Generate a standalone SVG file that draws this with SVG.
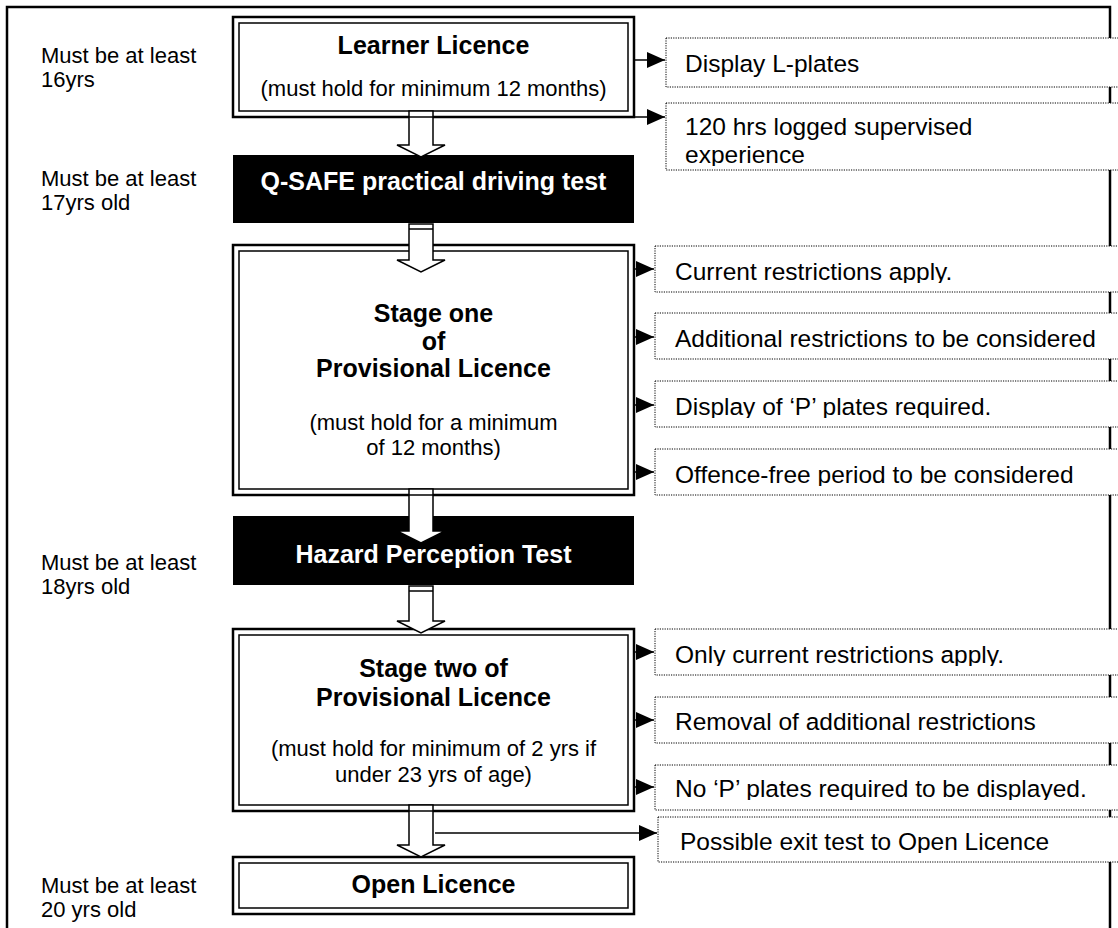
<svg xmlns="http://www.w3.org/2000/svg" width="1118" height="928" viewBox="0 0 1118 928">
<defs>
<style>
.frame{fill:none;stroke:#000;stroke-width:2.5}
.bf{fill:#fff}
.bo{fill:none;stroke:#000;stroke-width:2.5}
.bi{fill:none;stroke:#000;stroke-width:1.5}
.blk{fill:#000}
.note{fill:#fff;stroke:#000;stroke-width:1;stroke-dasharray:1.2 1.2}
.lab{font-family:"Liberation Sans",Arial,sans-serif;font-size:22px;fill:#000}
.reg{font-family:"Liberation Sans",Arial,sans-serif;font-size:22px;fill:#000;text-anchor:middle}
.bold{font-family:"Liberation Sans",Arial,sans-serif;font-size:25px;font-weight:bold;fill:#000;text-anchor:middle}
.wb{font-family:"Liberation Sans",Arial,sans-serif;font-size:25px;font-weight:bold;fill:#fff;text-anchor:middle}
.nt{font-family:"Liberation Sans",Arial,sans-serif;font-size:24.5px;fill:#000}
.hol{fill:#fff;stroke:#000;stroke-width:1.5;stroke-linejoin:miter}
.cap{stroke:#000;stroke-width:1.5}
.thin{stroke:#000;stroke-width:1.5;fill:none}
</style>
<marker id="ah" markerUnits="userSpaceOnUse" markerWidth="18" markerHeight="16" refX="18" refY="8" orient="auto">
<path d="M0,0 L18,8 L0,16 Z" fill="#000"/>
</marker>
<clipPath id="c120" clipPathUnits="userSpaceOnUse"><rect x="660" y="100" width="460" height="66"/></clipPath>
<clipPath id="cCur" clipPathUnits="userSpaceOnUse"><rect x="660" y="246" width="460" height="37"/></clipPath>
<clipPath id="cDisp" clipPathUnits="userSpaceOnUse"><rect x="660" y="381" width="460" height="37"/></clipPath>
<clipPath id="cOff" clipPathUnits="userSpaceOnUse"><rect x="660" y="449" width="460" height="37"/></clipPath>
<clipPath id="cOnly" clipPathUnits="userSpaceOnUse"><rect x="660" y="629" width="460" height="37"/></clipPath>
<clipPath id="cNo" clipPathUnits="userSpaceOnUse"><rect x="660" y="765" width="460" height="35"/></clipPath>
<clipPath id="cPos" clipPathUnits="userSpaceOnUse"><rect x="660" y="817" width="460" height="36"/></clipPath>
</defs>
<rect width="1118" height="928" fill="#fff"/>
<path class="frame" d="M7,940 V7 H1110 V940"/>

<g id="labels">
<text class="lab" x="41" y="63">Must be at least</text>
<text class="lab" x="41" y="87">16yrs</text>
<text class="lab" x="41" y="186">Must be at least</text>
<text class="lab" x="41" y="210">17yrs old</text>
<text class="lab" x="41" y="570">Must be at least</text>
<text class="lab" x="41" y="594">18yrs old</text>
<text class="lab" x="41" y="893">Must be at least</text>
<text class="lab" x="41" y="917">20 yrs old</text>
</g>

<g id="learner">
<rect class="bf" x="233" y="17" width="401" height="100"/>
<rect class="bo" x="233" y="17" width="401" height="100"/>
<rect class="bi" x="239" y="23" width="389" height="88"/>
<text class="bold" x="433.5" y="54">Learner Licence</text>
<text class="reg" x="433.5" y="96">(must hold for minimum 12 months)</text>
</g>

<g id="qsafe">
<rect class="blk" x="233" y="155" width="401" height="68"/>
<text class="wb" x="433.5" y="190">Q-SAFE practical driving test</text>
</g>

<g id="stage1">
<rect class="bf" x="233" y="245" width="401" height="250"/>
<rect class="bo" x="233" y="245" width="401" height="250"/>
<rect class="bi" x="239" y="251" width="389" height="238"/>
<text class="bold" x="433.5" y="322">Stage one</text>
<text class="bold" x="433.5" y="350">of</text>
<text class="bold" x="433.5" y="377">Provisional Licence</text>
<text class="reg" x="433.5" y="430">(must hold for a minimum</text>
<text class="reg" x="433.5" y="455">of 12 months)</text>
</g>

<g id="hazard">
<rect class="blk" x="233" y="516" width="401" height="69"/>
<text class="wb" x="433.5" y="563">Hazard Perception Test</text>
</g>

<g id="stage2">
<rect class="bf" x="233" y="629" width="401" height="182"/>
<rect class="bo" x="233" y="629" width="401" height="182"/>
<rect class="bi" x="239" y="635" width="389" height="170"/>
<text class="bold" x="433.5" y="677">Stage two of</text>
<text class="bold" x="433.5" y="706">Provisional Licence</text>
<text class="reg" x="433.5" y="756">(must hold for minimum of 2 yrs if</text>
<text class="reg" x="433.5" y="782">under 23 yrs of age)</text>
</g>

<g id="open">
<rect class="bf" x="233" y="857" width="401" height="57"/>
<rect class="bo" x="233" y="857" width="401" height="57"/>
<rect class="bi" x="239" y="863" width="389" height="45"/>
<text class="bold" x="433.5" y="893">Open Licence</text>
</g>

<g id="note-lplates">
<rect class="note" x="666" y="38" width="470" height="49"/>
<text class="nt" x="685" y="72">Display L-plates</text>
</g>
<g id="note-120hrs">
<rect class="note" x="666" y="103" width="470" height="67"/>
<g clip-path="url(#c120)">
<text class="nt" x="685" y="135">120 hrs logged supervised</text>
<text class="nt" x="685" y="163">experience</text>
</g>
</g>
<g id="note-current">
<rect class="note" x="655" y="246" width="480" height="46"/>
<text class="nt" x="675" y="280" clip-path="url(#cCur)">Current restrictions apply.</text>
</g>
<g id="note-additional">
<rect class="note" x="655" y="313" width="480" height="46"/>
<text class="nt" x="675" y="347">Additional restrictions to be considered</text>
</g>
<g id="note-pdisplay">
<rect class="note" x="655" y="381" width="480" height="46"/>
<text class="nt" x="675" y="415" clip-path="url(#cDisp)">Display of ‘P’ plates required.</text>
</g>
<g id="note-offence">
<rect class="note" x="655" y="449" width="480" height="46"/>
<text class="nt" x="675" y="483" clip-path="url(#cOff)">Offence-free period to be considered</text>
</g>
<g id="note-only">
<rect class="note" x="655" y="629" width="480" height="46"/>
<text class="nt" x="675" y="663" clip-path="url(#cOnly)">Only current restrictions apply.</text>
</g>
<g id="note-removal">
<rect class="note" x="655" y="697" width="480" height="46"/>
<text class="nt" x="675" y="730">Removal of additional restrictions</text>
</g>
<g id="note-nop">
<rect class="note" x="655" y="765" width="480" height="45"/>
<text class="nt" x="675" y="797" clip-path="url(#cNo)">No ‘P’ plates required to be displayed.</text>
</g>
<g id="note-exit">
<rect class="note" x="658" y="817" width="480" height="45"/>
<text class="nt" x="680" y="850" clip-path="url(#cPos)">Possible exit test to Open Licence</text>
</g>

<g id="connectors">
<path class="hol" d="M409,111 V145 H397 L421,157 L445,145 H433 V111 Z"/>
<line class="cap" x1="409" y1="117" x2="433" y2="117"/>
<path class="hol" d="M409,224 V260 H397 L421,272 L445,260 H433 V224 Z"/>
<line class="cap" x1="409" y1="229" x2="433" y2="229"/>
<path class="hol" d="M409,489 V531 H397 L421,543 L445,531 H433 V489 Z"/>
<line class="cap" x1="409" y1="495" x2="433" y2="495"/>
<path class="hol" d="M409,586 V621 H397 L421,633 L445,621 H433 V586 Z"/>
<line class="cap" x1="409" y1="591" x2="433" y2="591"/>
<path class="hol" d="M409,805 V845 H397 L421,857 L445,845 H433 V805 Z"/>
<line class="cap" x1="409" y1="811" x2="433" y2="811"/>

<line class="thin" x1="634" y1="60" x2="665" y2="60" marker-end="url(#ah)"/>
<line class="thin" x1="634" y1="117" x2="665" y2="117" marker-end="url(#ah)"/>
<line class="thin" x1="634" y1="269" x2="654" y2="269" marker-end="url(#ah)"/>
<line class="thin" x1="634" y1="337" x2="654" y2="337" marker-end="url(#ah)"/>
<line class="thin" x1="634" y1="405" x2="654" y2="405" marker-end="url(#ah)"/>
<line class="thin" x1="634" y1="472" x2="654" y2="472" marker-end="url(#ah)"/>
<line class="thin" x1="634" y1="652" x2="654" y2="652" marker-end="url(#ah)"/>
<line class="thin" x1="634" y1="720" x2="654" y2="720" marker-end="url(#ah)"/>
<line class="thin" x1="634" y1="787" x2="654" y2="787" marker-end="url(#ah)"/>
<line class="thin" x1="435" y1="833" x2="657" y2="833" marker-end="url(#ah)"/>
</g>
</svg>
